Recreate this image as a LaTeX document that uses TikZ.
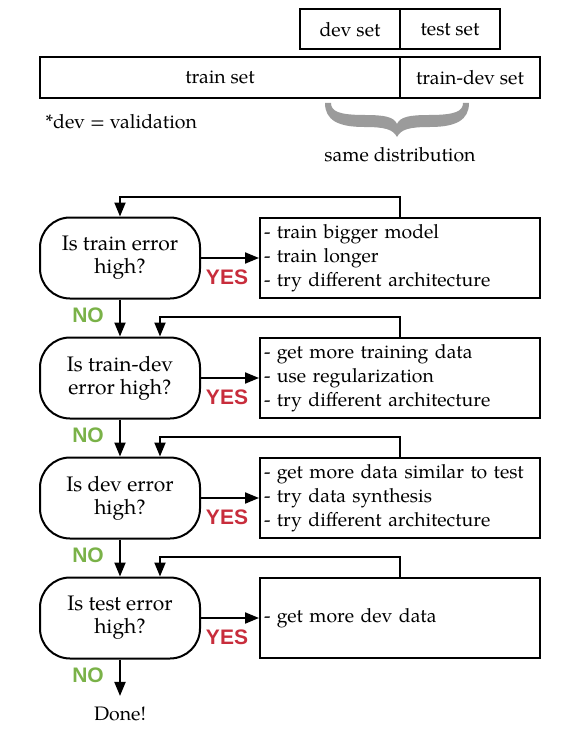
\documentclass[tikz,border=0pt]{standalone}
\usepackage{fontspec}
\setmainfont{TeX Gyre Pagella}
\newfontfamily\sansfnt{Liberation Sans}
\usetikzlibrary{arrows.meta}
\definecolor{yescol}{RGB}{200,45,60}
\definecolor{nocol}{RGB}{122,178,72}
\definecolor{bracecol}{RGB}{155,155,155}
\tikzset{
  every node/.style={font=\rmfamily\fontsize{19.5}{24}\selectfont},
  setbox/.style={draw, line width=2pt, inner sep=0pt, minimum height=40pt},
  question/.style={draw, line width=2pt, rounded corners=30pt, minimum width=160pt, minimum height=81pt, align=center, inner sep=0pt, font=\rmfamily\fontsize{21}{23}\selectfont},
  actionbox/.style={draw, line width=2pt, minimum width=280pt, minimum height=80pt, text width=272pt, inner xsep=4pt, align=left, font=\rmfamily\fontsize{19.4}{24}\selectfont},
  arr/.style={line width=2pt, -{Triangle[length=14pt,width=11pt]}},
  yeslbl/.style={text=yescol, font=\sansfnt\bfseries\fontsize{21}{24}\selectfont},
  nolbl/.style={text=nocol, font=\sansfnt\bfseries\fontsize{21}{24}\selectfont},
}
\begin{document}
\begin{tikzpicture}[x=1pt,y=-1pt]
\useasboundingbox (0,0) rectangle (580,733);
% top data split
\node[setbox, minimum width=100pt] (dev) at (350,29.5) {dev set};
\node[setbox, minimum width=100pt] (test) at (450,29.5) {test set};
\node[setbox, minimum width=360pt, minimum height=41pt] (train) at (220,77.5) {train set};
\node[setbox, minimum width=140pt, minimum height=41pt] (traindev) at (470,77.5) {train-dev set};
\node[anchor=west] (note) at (42,122) {*dev = validation};
\fill[bracecol] (325,103) -- (331,103)
  .. controls (331,111) and (338,115) .. (365,115)
  .. controls (385,115) and (394,117) .. (397,124)
  .. controls (400,117) and (409,115) .. (429,115)
  .. controls (456,115) and (463,111) .. (463,103)
  -- (469,103)
  .. controls (469,120) and (456,127) .. (430,127)
  .. controls (410,127) and (401,129) .. (397,137)
  .. controls (393,129) and (384,127) .. (364,127)
  .. controls (338,127) and (325,120) .. (325,103) -- cycle;
\node (same) at (400,155) {same distribution};
% flowchart
\node[question] (q1) at (120,258) {Is train error\\high?};
\node[question] (q2) at (120,378) {Is train-dev\\error high?};
\node[question] (q3) at (120,498) {Is dev error\\high?};
\node[question] (q4) at (120,618) {Is test error\\high?};
\node[actionbox] (a1) at (400,258) {- train bigger model\\- train longer\\- try different architecture};
\node[actionbox] (a2) at (400,378) {- get more training data\\- use regularization\\- try different architecture};
\node[actionbox] (a3) at (400,498) {- get more data similar to test\\- try data synthesis\\- try different architecture};
\node[actionbox] (a4) at (400,618) {- get more dev data};
\node[anchor=base] (done) at (120,720) {Done!};
% yes arrows
\draw[arr] (q1.east) -- (a1.west);
\draw[arr] (q2.east) -- (a2.west);
\draw[arr] (q3.east) -- (a3.west);
\draw[arr] (q4.east) -- (a4.west);
% no arrows
\draw[arr] (q1.south) -- (q2.north);
\draw[arr] (q2.south) -- (q3.north);
\draw[arr] (q3.south) -- (q4.north);
\draw[arr] (q4.south) -- ([yshift=7pt]done.north);
% return loops
\draw[arr] (a1.north) -- ++(0,-20) -| (q1.north);
\draw[arr] (a2.north) -- ++(0,-20) -| ([xshift=40pt]q2.north);
\draw[arr] (a3.north) -- ++(0,-20) -| ([xshift=40pt]q3.north);
\draw[arr] (a4.north) -- ++(0,-20) -| ([xshift=40pt]q4.north);
% labels
\node[yeslbl] (y1) at (227,277) {YES};
\node[yeslbl] (y2) at (227,397) {YES};
\node[yeslbl] (y3) at (227,517) {YES};
\node[yeslbl] (y4) at (227,637) {YES};
\node[nolbl] (n1) at (88,315) {NO};
\node[nolbl] (n2) at (88,435) {NO};
\node[nolbl] (n3) at (88,555) {NO};
\node[nolbl] (n4) at (88,675) {NO};
\end{tikzpicture}
\end{document}
